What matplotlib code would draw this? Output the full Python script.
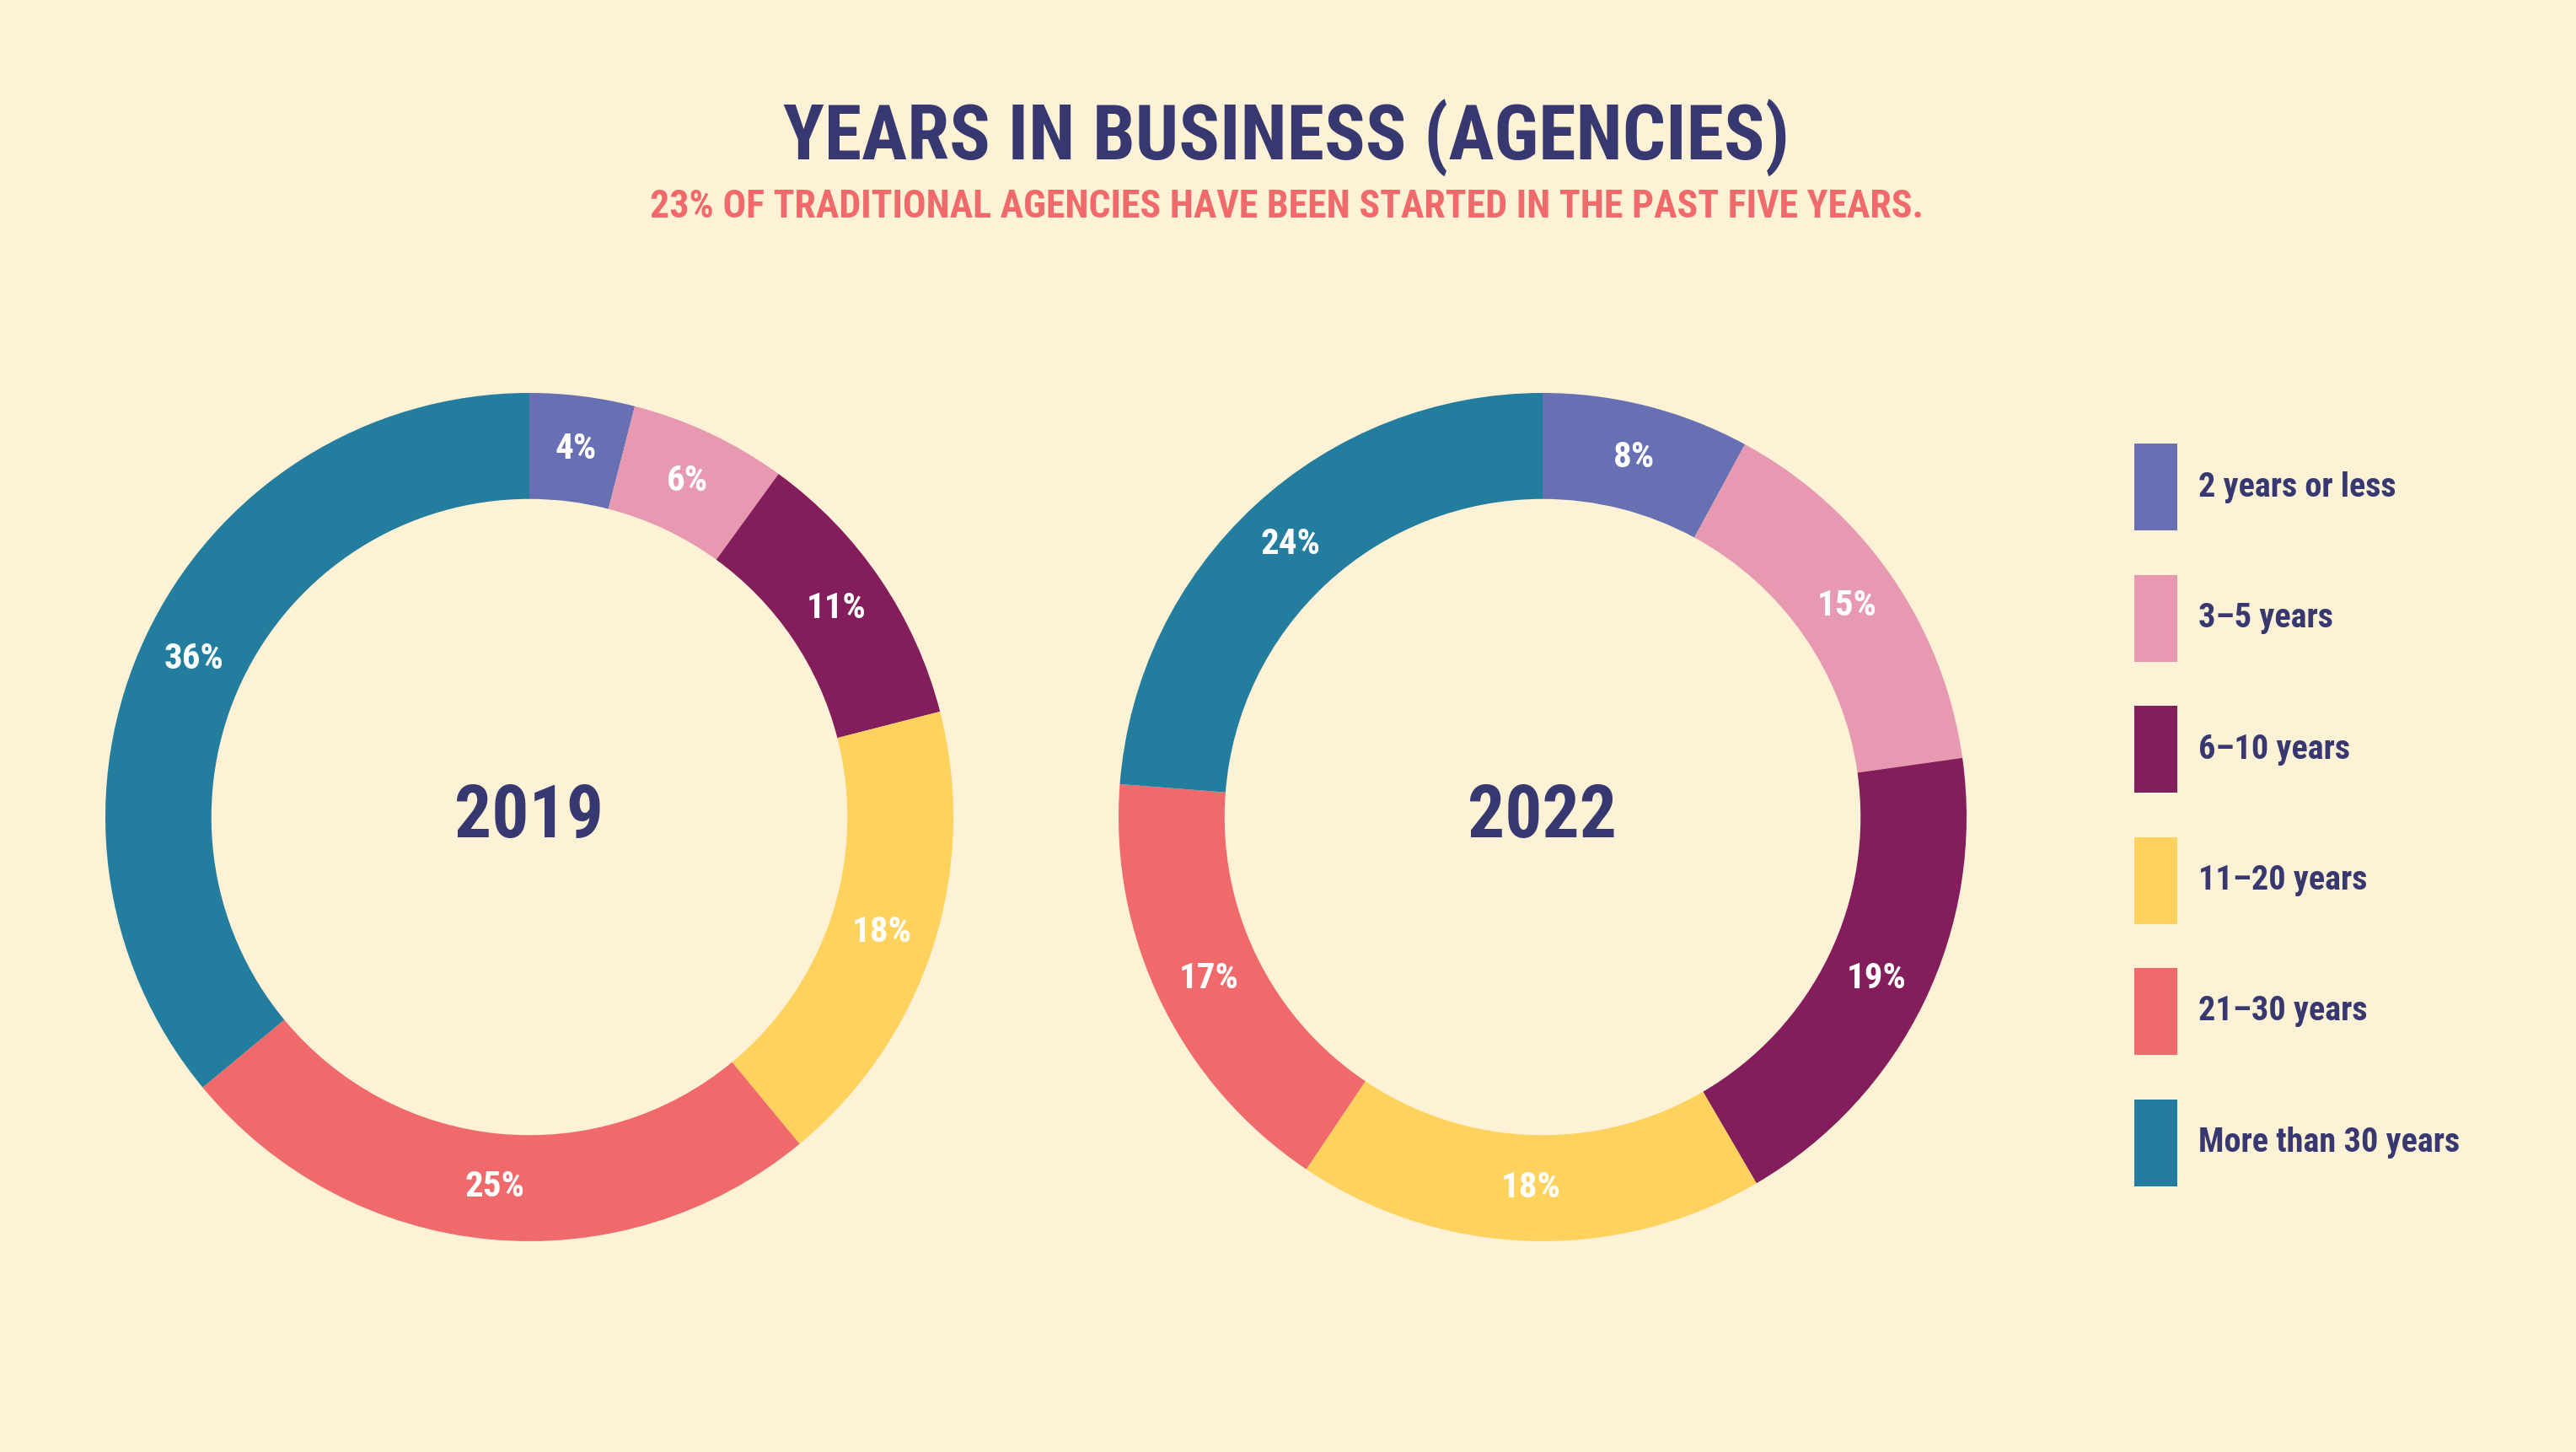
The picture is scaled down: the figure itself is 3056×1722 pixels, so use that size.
import matplotlib
matplotlib.use("Agg")
import matplotlib.pyplot as plt
from matplotlib.patches import Rectangle

# data
categories = ["2 years or less", "3\u20135 years", "6\u201310 years",
              "11\u201320 years", "21\u201330 years", "More than 30 years"]
values_2019 = [4, 6, 11, 18, 25, 36]
values_2022 = [8, 15, 19, 18, 17, 24]
years = ["2019", "2022"]

colors = ["#6870b4", "#e899b2", "#831d5c", "#fed25d", "#f06a6c", "#237d9e"]
bg = "#fef2d6"
navy = "#383871"
coral = "#f06a6c"

plt.rcParams['font.family'] = ['Roboto Condensed', 'Roboto', 'DejaVu Sans']

W, H = 3056, 1722
fig = plt.figure(figsize=(W / 100, H / 100), dpi=100, facecolor=bg)


def donut(cx, cy, r, vals, year):
    ax = fig.add_axes([(cx - r) / W, 1 - (cy + r) / H, 2 * r / W, 2 * r / H])
    ax.set_facecolor(bg)
    ax.pie(vals, colors=colors, startangle=90, counterclock=False, radius=1,
           wedgeprops=dict(width=0.25, edgecolor='none'),
           autopct=lambda p: f"{p * sum(vals) / 100:.0f}%", pctdistance=0.875,
           textprops=dict(color='white', fontsize=31, fontweight='bold'))
    ax.set_xlim(-1, 1)
    ax.set_ylim(-1, 1)
    ax.set_aspect('equal')
    ax.axis('off')
    ax.text(0, 0, year, ha='center', va='center', fontsize=63,
            fontweight='bold', color=navy)


donut(628, 969, 503, values_2019, years[0])
donut(1830, 969, 503, values_2022, years[1])

fig.text(1526 / W, 1 - 164 / H, "YEARS IN BUSINESS (AGENCIES)", ha='center',
         va='center', fontsize=65, fontweight='bold', color=navy)
fig.text(1526 / W, 1 - 245 / H,
         "23% OF TRADITIONAL AGENCIES HAVE BEEN STARTED IN THE PAST FIVE YEARS.",
         ha='center', va='center', fontsize=33, fontweight='bold', color=coral)

# legend, drawn by hand for the tall swatches
top0, step, rh, rw, rx, tx = 526, 155.5, 103, 51, 2532, 2608
for i, (cat, col) in enumerate(zip(categories, colors)):
    top = top0 + i * step
    fig.add_artist(Rectangle((rx / W, 1 - (top + rh) / H), rw / W, rh / H,
                             transform=fig.transFigure, facecolor=col,
                             edgecolor='none'))
    fig.text(tx / W, 1 - (top + rh / 2) / H, cat, ha='left', va='center',
             fontsize=29, fontweight='bold', color=navy)

fig.savefig("out.png", dpi=100, facecolor=bg)
